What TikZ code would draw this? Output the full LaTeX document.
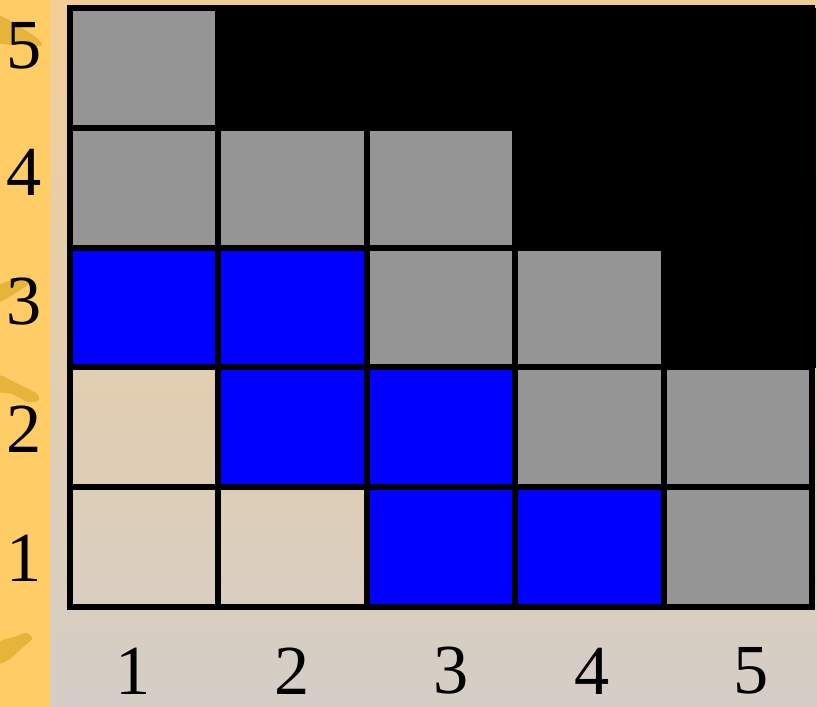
\documentclass[tikz,border=0pt]{standalone}
\usepackage{fontspec}
\setmainfont{Liberation Serif}
\definecolor{stripgold}{RGB}{255,204,102}
\definecolor{brushgold}{RGB}{230,180,58}
\definecolor{bgtop}{RGB}{242,206,150}
\definecolor{bgbottom}{RGB}{212,206,199}
\definecolor{cellgray}{RGB}{149,149,149}
\definecolor{cellblue}{RGB}{0,0,255}

\begin{document}
\begin{tikzpicture}[
        x=0.01cm, y=-0.01cm,
        gridline/.style={
            line width=0.06cm,
            draw=black,
            line cap=rect
        },
        graycell/.style={fill=cellgray},
        bluecell/.style={fill=cellblue},
        brush/.style={fill=brushgold},
        axislabel/.style={
            font=\fontsize{20}{24}\selectfont,
            inner sep=0pt
        }
    ]

    % background and side strip
    \useasboundingbox (0,0) rectangle (817,707);
    \shade[top color=bgtop, bottom color=bgbottom] (50,0) rectangle (817,707);
    \fill[stripgold] (0,0) rectangle (50,707);

    \fill[brush] plot[smooth cycle] coordinates {(-2,16) (20,27) (38,39) (41,46) (22,45) (-2,42)};
    \fill[brush] plot[smooth cycle] coordinates {(-2,286) (16,279) (30,277) (30,283) (14,294) (-2,302)};
    \fill[brush] plot[smooth cycle] coordinates {(-2,375) (20,385) (36,393) (39,400) (28,402) (12,394) (-2,391)};
    \fill[brush] plot[smooth cycle] coordinates {(-2,643) (14,637) (26,633) (32,639) (22,648) (10,659) (-2,663)};

    % upper right corner
    \fill[black] (218,8) -- (816,8) -- (816,368) -- (662,368) -- (662,248)
        -- (513,248) -- (513,128) -- (218,128) -- cycle;

    \foreach \c/\r in {1/5,1/4,2/4,3/4,3/3,4/3,4/2,5/2,5/1}
        \fill[graycell] ({70+(\c-1)*148.4},{607-\r*119.8}) rectangle ++(148.4,119.8);
    \foreach \c/\r in {1/3,2/3,2/2,3/2,3/1,4/1}
        \fill[bluecell] ({70+(\c-1)*148.4},{607-\r*119.8}) rectangle ++(148.4,119.8);

    % grid
    \foreach \i in {0,...,5}
        \draw[gridline] ({70+\i*148.4},8) -- ({70+\i*148.4},607);
    \foreach \j in {0,...,5}
        \draw[gridline] (70,{8+\j*119.8}) -- (812,{8+\j*119.8});

    \foreach \r/\yy in {5/46,4/172,3/302,2/429,1/558}
        \node[axislabel] (row-\r) at (24,\yy) {\r};
    \foreach \c/\xx in {1/133,2/292,3/451,4/592,5/751}
        \node[axislabel] (col-\c) at (\xx,671) {\c};

\end{tikzpicture}
\end{document}
